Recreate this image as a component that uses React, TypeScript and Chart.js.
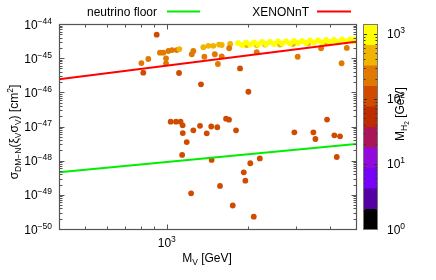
import React, { useEffect, useRef } from "react";
import { Chart, registerables } from "chart.js";
Chart.register(...registerables);

// Scatter points: vector mass M_V [GeV], cross section [cm^2], colour value M_H2 [GeV]
const massV = [
  1034, 1082, 1125, 1145, 1146, 1254, 1327, 1460, 1537, 1405, 1185, 1140, 1656, 1698, 1803, 1465,
  1230, 1573, 1753, 2096, 1925, 1951, 2035, 2206, 2960, 3480, 3540, 3909, 4245, 4160, 4365,
  918, 806, 855, 819, 944, 971, 1014, 1046, 1089, 1113, 994, 994, 1110, 1237, 1254, 1365, 1424,
  1486, 1560, 1338, 1377, 1505, 1545, 1596, 1715, 1700, 1865, 2002, 2150, 3045, 3715, 4624, 4424, 1596,
  1974, 2150, 2307, 2621, 2927, 3326, 3843,
  1833, 1963, 2101, 2249, 2407, 2577, 2758, 2952, 3160, 3383, 3621, 3876, 4149, 4441, 4754, 4960,
  1897, 2031, 2174, 2327, 2490, 2666, 2854, 3055, 3270, 3500, 3747, 4010, 4293, 4595, 4918,
];
const sigma = [
  1.38e-47, 1.38e-47, 1.38e-47, 1.08e-47, 6.4e-48, 7.75e-48, 1.05e-47, 1.0e-47, 9.5e-48, 6.3e-48, 3.5e-48, 1.47e-48, 1.69e-47, 1.58e-47, 7.75e-48, 1.05e-48,
  1.11e-49, 1.82e-49, 4.88e-50, 2.29e-50, 4.57e-49, 2.59e-49, 8.4e-49, 1.16e-48, 6.77e-48, 6.77e-48, 4.31e-48, 1.6e-47, 1.28e-48, 5.53e-48, 5.17e-48,
  4.86e-45, 7.2e-46, 9.45e-46, 3.76e-46, 1.45e-45, 1.45e-45, 1.62e-45, 1.73e-45, 1.73e-45, 1.85e-45, 9.9e-46, 7.08e-46, 3.68e-46, 1.3e-45, 1.62e-45, 2.1e-45, 2.3e-45,
  2.3e-45, 2.5e-45, 1.72e-46, 1.1e-45, 1.3e-45, 6.75e-46, 1.13e-45, 2.6e-45, 1.95e-45, 5.0e-46, 1.04e-46, 1.5e-45, 1.1e-45, 1.95e-45, 2.0e-45, 7.1e-46, 2.43e-45,
  2.43e-45, 2.43e-45, 2.51e-45, 2.51e-45, 2.6e-45, 2.69e-45, 2.78e-45,
  2.78e-45, 2.88e-45, 2.88e-45, 2.97e-45, 2.97e-45, 3.08e-45, 3.08e-45, 3.18e-45, 3.18e-45, 3.29e-45, 3.29e-45, 3.4e-45, 3.4e-45, 3.52e-45, 3.52e-45, 3.52e-45,
  2.43e-45, 2.51e-45, 2.51e-45, 2.6e-45, 2.6e-45, 2.69e-45, 2.69e-45, 2.78e-45, 2.78e-45, 2.88e-45, 2.88e-45, 2.97e-45, 2.97e-45, 3.08e-45, 3.08e-45,
];
const massH2 = [
  120, 125, 118, 130, 115, 122, 128, 119, 124, 117, 121, 126, 123, 127, 116, 129,
  120, 118, 125, 122, 119, 121, 124, 117, 126, 123, 120, 128, 118, 122, 125,
  130, 230, 240, 135, 220, 250, 235, 245, 210, 420, 230, 225, 128, 240, 215, 450, 430,
  470, 440, 125, 230, 250, 220, 240, 460, 235, 130, 120, 230, 240, 225, 250, 235, 430,
  480, 450, 500, 470, 520, 490, 510,
  900, 950, 1000, 880, 920, 1050, 980, 930, 1100, 960, 1000, 1050, 990, 1120, 1060, 1150,
  820, 850, 900, 870, 940, 910, 880, 960, 920, 990, 1010, 970, 1040, 1000, 1080,
];

// Reference limit lines
const floorMass = [400, 5000];
const floorSigma = [4.57e-49, 3.1e-48];
const xenonMass = [400, 5000];
const xenonSigma = [2.4e-46, 3.03e-45];

// Axes
const xMin = 400;
const xMax = 5000;
const yMin = 1e-50;
const yMax = 1e-44;
const yTickExps = [-44, -45, -46, -47, -48, -49, -50];
const xMajorTicks = [1000];
const xMajorLabels = ["3"];
const xMinorTicks = [500, 600, 700, 800, 900, 2000, 3000, 4000];
const cbMin = 1;
const cbMax = 1400;
const cbTickExps = [0, 1, 2, 3];
const palette = [
  "#000000", "#5500A4", "#7803FB", "#930ADD", "#AA1657",
  "#BE2C00", "#D04B00", "#E17800", "#F0B300", "#FFFF00",
];

const FONT = '"Liberation Sans", Arial, Helvetica, sans-serif';

function colorFor(v: number) {
  const f = Math.log10(v / cbMin) / Math.log10(cbMax / cbMin);
  let i = Math.floor(f * palette.length);
  if (i < 0) i = 0;
  if (i > palette.length - 1) i = palette.length - 1;
  return palette[i];
}

type Seg = { t: string; m: "n" | "sub" | "sup" | "subsub" };
const SIZES = { n: 12, sub: 8.5, sup: 8.5, subsub: 6.5 };
const SHIFTS = { n: 0, sub: 3, sup: -5, subsub: 5 };

function rich(ctx: CanvasRenderingContext2D, segs: Seg[], x: number, y: number, align: "left" | "center" | "right") {
  const widths: number[] = [];
  let total = 0;
  for (const s of segs) {
    ctx.font = `${SIZES[s.m]}px ${FONT}`;
    const w = ctx.measureText(s.t).width;
    widths.push(w);
    total += w;
  }
  let cx = align === "center" ? x - total / 2 : align === "right" ? x - total : x;
  ctx.textAlign = "left";
  ctx.textBaseline = "alphabetic";
  ctx.fillStyle = "#000";
  segs.forEach((s, i) => {
    ctx.font = `${SIZES[s.m]}px ${FONT}`;
    ctx.fillText(s.t, cx, y + SHIFTS[s.m]);
    cx += widths[i];
  });
}

const decor = {
  id: "decor",
  afterDraw(chart: any) {
    const ctx: CanvasRenderingContext2D = chart.ctx;
    const xs = chart.scales.x;
    const ys = chart.scales.y;
    const cb = chart.scales.cb;
    const a = chart.chartArea;
    const L = Math.round(a.left) + 0.5;
    const R = Math.round(a.right) + 0.5;
    const T = Math.round(a.top) + 0.5;
    const B = Math.round(a.bottom) + 0.5;
    ctx.save();

    // ticks
    ctx.strokeStyle = "#555";
    ctx.lineWidth = 1;
    ctx.beginPath();
    const vt = (px: number, len: number) => {
      const p = Math.round(px) + 0.5;
      ctx.moveTo(p, B); ctx.lineTo(p, B - len);
      ctx.moveTo(p, T); ctx.lineTo(p, T + len);
    };
    const ht = (py: number, len: number) => {
      const p = Math.round(py) + 0.5;
      ctx.moveTo(L, p); ctx.lineTo(L + len, p);
      ctx.moveTo(R, p); ctx.lineTo(R - len, p);
    };
    xMajorTicks.forEach((v) => vt(xs.getPixelForValue(v), 5));
    xMinorTicks.forEach((v) => vt(xs.getPixelForValue(v), 3));
    yTickExps.forEach((e) => {
      ht(ys.getPixelForValue(Math.pow(10, e)), 5);
      if (e > -50) {
        for (let k = 2; k <= 9; k++) ht(ys.getPixelForValue(k * Math.pow(10, e - 1)), 3);
      }
    });
    ctx.stroke();

    // border
    ctx.strokeStyle = "#555";
    ctx.lineWidth = 1.2;
    ctx.strokeRect(L, T, R - L, B - T);

    // y tick labels
    yTickExps.forEach((e) => {
      const py = ys.getPixelForValue(Math.pow(10, e));
      rich(ctx, [{ t: "10", m: "n" }, { t: "\u2212" + Math.abs(e), m: "sup" }], 52, py + 4.5, "right");
    });
    // x tick labels
    xMajorTicks.forEach((v, i) => {
      const px = xs.getPixelForValue(v);
      rich(ctx, [{ t: "10", m: "n" }, { t: xMajorLabels[i], m: "sup" }], px, 247, "center");
    });

    // x title
    rich(ctx, [{ t: "M", m: "n" }, { t: "V", m: "sub" }, { t: " [GeV]", m: "n" }], 207, 262, "center");

    // y title
    ctx.save();
    ctx.translate(18, 132);
    ctx.rotate(-Math.PI / 2);
    rich(ctx, [
      { t: "\u03c3", m: "n" }, { t: "DM\u2212N", m: "sub" }, { t: "(\u03be", m: "n" }, { t: "V", m: "sub" },
      { t: "\u03c3", m: "n" }, { t: "V", m: "sub" }, { t: ") [cm", m: "n" }, { t: "2", m: "sup" }, { t: "]", m: "n" },
    ], 0, 0, "center");
    ctx.restore();

    // legend
    rich(ctx, [{ t: "neutrino floor", m: "n" }], 157, 15.5, "right");
    rich(ctx, [{ t: "XENONnT", m: "n" }], 309, 15.5, "right");
    ctx.lineWidth = 2;
    ctx.strokeStyle = "#00ee00";
    ctx.beginPath(); ctx.moveTo(167, 11.5); ctx.lineTo(200, 11.5); ctx.stroke();
    ctx.strokeStyle = "#ff0000";
    ctx.beginPath(); ctx.moveTo(317, 11.5); ctx.lineTo(351, 11.5); ctx.stroke();

    // colour box
    const cL = 363, cR = 378;
    const n = palette.length;
    const lr = Math.log10(cbMax / cbMin);
    for (let i = 0; i < n; i++) {
      const v0 = cbMin * Math.pow(10, (lr * i) / n);
      const v1 = cbMin * Math.pow(10, (lr * (i + 1)) / n);
      const y0 = cb.getPixelForValue(v0);
      const y1 = cb.getPixelForValue(v1);
      ctx.fillStyle = palette[i];
      ctx.fillRect(cL, y1, cR - cL, y0 - y1 + 0.5);
    }
    ctx.strokeStyle = "#333";
    ctx.lineWidth = 1;
    ctx.beginPath();
    cbTickExps.forEach((e) => {
      const list: [number, number][] = [[Math.pow(10, e), 4]];
      for (let k = 2; k <= 9; k++) list.push([k * Math.pow(10, e), 2.5]);
      list.forEach(([v, len]) => {
        if (v > cbMax) return;
        const p = Math.round(cb.getPixelForValue(v)) + 0.5;
        ctx.moveTo(cL, p); ctx.lineTo(cL + len, p);
        ctx.moveTo(cR, p); ctx.lineTo(cR - len, p);
      });
    });
    ctx.stroke();
    ctx.strokeStyle = "#777";
    ctx.strokeRect(cL + 0.5, T, cR - cL - 1, B - T);
    cbTickExps.forEach((e) => {
      const py = cb.getPixelForValue(Math.pow(10, e));
      rich(ctx, [{ t: "10", m: "n" }, { t: String(e), m: "sup" }], 387, py + 4.5, "left");
    });
    // colour box title
    ctx.save();
    ctx.translate(404, 114);
    ctx.rotate(-Math.PI / 2);
    rich(ctx, [{ t: "M", m: "n" }, { t: "H", m: "sub" }, { t: "2", m: "subsub" }, { t: " [GeV]", m: "n" }], 0, 0, "center");
    ctx.restore();

    ctx.restore();
  },
};

export default function App() {
  const ref = useRef<HTMLCanvasElement>(null);
  useEffect(() => {
    document.body.style.margin = "0";
    const canvas = ref.current;
    if (!canvas) return;
    const chart = new Chart(canvas, {
      type: "scatter",
      data: {
        datasets: [
          {
            data: floorMass.map((m, i) => ({ x: m, y: floorSigma[i] })),
            showLine: true,
            borderColor: "#00ee00",
            borderWidth: 2,
            pointRadius: 0,
          },
          {
            data: xenonMass.map((m, i) => ({ x: m, y: xenonSigma[i] })),
            showLine: true,
            borderColor: "#ff0000",
            borderWidth: 2,
            pointRadius: 0,
          },
          {
            data: massV.map((m, i) => ({ x: m, y: sigma[i] })),
            showLine: false,
            pointRadius: 2.9,
            pointBorderWidth: 0,
            pointBackgroundColor: massH2.map(colorFor),
            pointBorderColor: massH2.map(colorFor),
          },
        ],
      } as any,
      options: {
        animation: false,
        responsive: false,
        layout: { padding: { left: 59, right: 80, top: 24, bottom: 51 } },
        plugins: { legend: { display: false }, tooltip: { enabled: false } },
        scales: {
          x: { type: "logarithmic", min: xMin, max: xMax, display: false },
          y: { type: "logarithmic", min: yMin, max: yMax, display: false },
          cb: { type: "logarithmic", position: "right", min: cbMin, max: cbMax, display: false },
        },
      } as any,
      plugins: [decor],
    });
    return () => chart.destroy();
  }, []);
  return (
    <div style={{ width: 436, height: 280 }}>
      <canvas ref={ref} width={436} height={280} style={{ display: "block" }} />
    </div>
  );
}
